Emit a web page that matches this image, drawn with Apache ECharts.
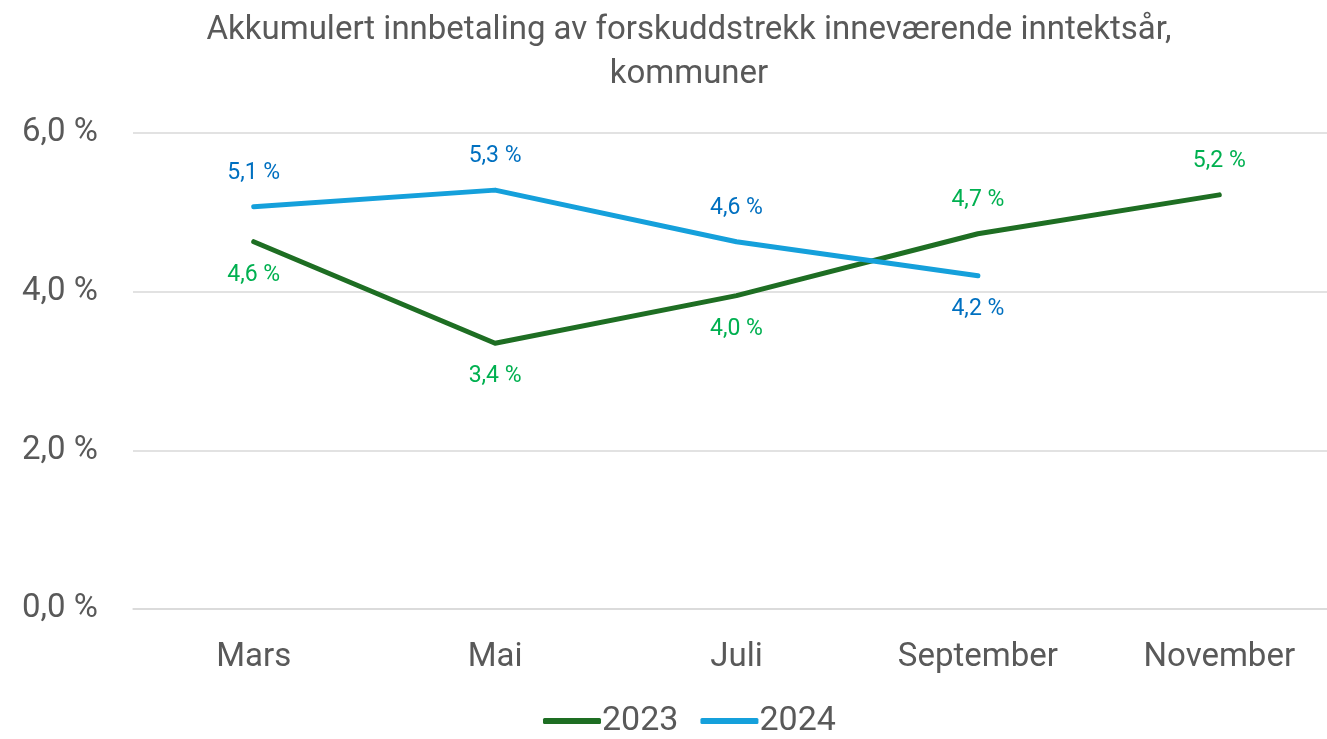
<!DOCTYPE html>
<html>
<head>
<meta charset="utf-8">
<script src="https://cdn.jsdelivr.net/npm/echarts@6/dist/echarts.min.js"></script>
<style>
  html, body { margin: 0; padding: 0; background: #fff; }
  #chart { width: 1327px; height: 739px; }
</style>
</head>
<body>
<div id="chart"></div>
<script>
const months = ['Mars', 'Mai', 'Juli', 'September', 'November'];
const values2023 = [4.63, 3.35, 3.95, 4.73, 5.22];
const values2024 = [5.07, 5.28, 4.63, 4.2, null];
const yTicks = [0, 2, 4, 6];
// label above or below each point
const pos2023 = ['bottom', 'bottom', 'bottom', 'top', 'top'];
const pos2024 = ['top', 'top', 'top', 'bottom', 'top'];

const chart = echarts.init(document.getElementById('chart'));
const fmt = v => v.toFixed(1).replace('.', ',') + ' %';

function withLabels(values, positions) {
  return values.map((v, i) => ({
    value: v,
    label: { position: positions[i] }
  }));
}

const option = {
  textStyle: { fontFamily: 'Roboto' },
  title: {
    text: 'Akkumulert innbetaling av forskuddstrekk inneværende inntektsår,\nkommuner',
    left: 684,
    textAlign: 'center',
    top: 4,
    textStyle: {
      fontFamily: 'Roboto',
      fontWeight: 'normal',
      fontSize: 33,
      lineHeight: 44,
      color: '#595959'
    }
  },
  legend: {
    bottom: -4,
    left: 538,
    itemWidth: 58,
    itemHeight: 6,
    itemGap: 22,
    icon: 'roundRect',
    textStyle: { fontSize: 34, color: '#595959', padding: [0, 0, 0, -4] },
    data: ['2023', '2024']
  },
  grid: { left: 133, right: -13, top: 133, bottom: 130, outerBoundsMode: 'none' },
  xAxis: {
    type: 'category',
    data: months,
    axisTick: { show: false },
    axisLine: { lineStyle: { color: '#d9d9d9', width: 1.5 } },
    axisLabel: { fontSize: 33, color: '#595959', margin: 32 }
  },
  yAxis: {
    type: 'value',
    min: yTicks[0],
    max: yTicks[yTicks.length - 1],
    interval: 2,
    axisLabel: {
      fontSize: 33,
      color: '#595959',
      margin: 35,
      formatter: fmt
    },
    splitLine: { lineStyle: { color: '#d9d9d9', width: 1.5 } }
  },
  series: [
    {
      name: '2023',
      type: 'line',
      data: withLabels(values2023, pos2023),
      symbol: 'circle',
      symbolSize: 0,
      color: '#1e6e23',
      lineStyle: { width: 5, cap: 'round', join: 'round' },
      label: {
        show: true,
        distance: 22,
        fontSize: 23,
        color: '#00b050',
        formatter: p => fmt(p.value)
      },
      emphasis: { disabled: true }
    },
    {
      name: '2024',
      type: 'line',
      data: withLabels(values2024, pos2024),
      symbol: 'circle',
      symbolSize: 0,
      color: '#15a0db',
      lineStyle: { width: 5, cap: 'round', join: 'round' },
      label: {
        show: true,
        distance: 22,
        fontSize: 23,
        color: '#0070c0',
        formatter: p => (p.value == null ? '' : fmt(p.value))
      },
      emphasis: { disabled: true }
    }
  ]
};

chart.setOption(option);
window.addEventListener('resize', function () {
  chart.resize();
});
</script>
</body>
</html>
